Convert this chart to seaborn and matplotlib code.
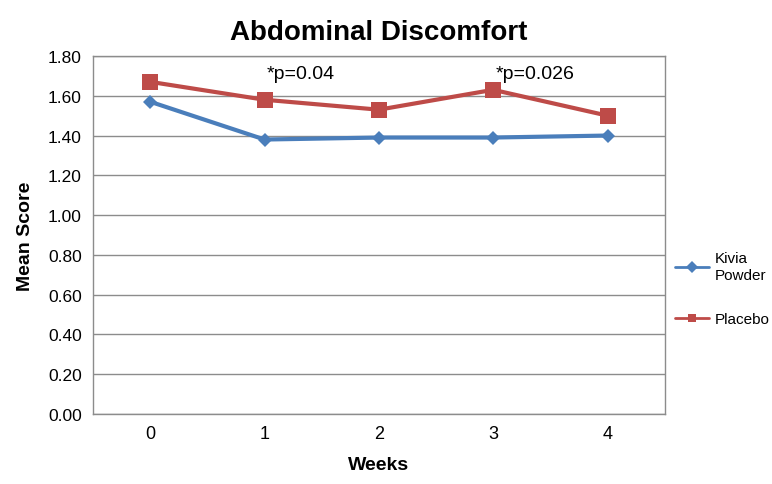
import matplotlib
matplotlib.use("Agg")
import matplotlib.pyplot as plt
import seaborn as sns
import pandas as pd

weeks = [0, 1, 2, 3, 4]
kivia = [1.57, 1.38, 1.39, 1.39, 1.40]
placebo = [1.67, 1.58, 1.53, 1.63, 1.50]
series_names = ["Kivia\nPowder", "Placebo"]
yticks = [0.0, 0.2, 0.4, 0.6, 0.8, 1.0, 1.2, 1.4, 1.6, 1.8]
notes = [(1, 1.67, "*p=0.04"), (3, 1.67, "*p=0.026")]

sns.set_theme(style="white")
plt.rcParams["font.family"] = ["Liberation Sans", "DejaVu Sans"]
plt.rcParams["text.color"] = "black"
plt.rcParams["axes.labelcolor"] = "black"
plt.rcParams["xtick.color"] = "black"
plt.rcParams["ytick.color"] = "black"

df = pd.DataFrame({
    "Weeks": weeks * 2,
    "Mean Score": kivia + placebo,
    "Group": [series_names[0]] * len(weeks) + [series_names[1]] * len(weeks),
})

fig = plt.figure(figsize=(7.72, 4.85), dpi=100)
ax = fig.add_axes([0.1205, 0.1443, 0.7405, 0.7382])

palette = {series_names[0]: "#4a7ebb", series_names[1]: "#be4b48"}
markers = {series_names[0]: "D", series_names[1]: "s"}
sizes = {series_names[0]: 7, series_names[1]: 11}

for name in series_names:
    sub = df[df["Group"] == name]
    sns.lineplot(data=sub, x="Weeks", y="Mean Score", ax=ax, color=palette[name],
                 marker=markers[name], markersize=sizes[name], linewidth=3,
                 markeredgewidth=0, label=name)

ax.set_xlim(-0.5, 4.5)
ax.set_ylim(0, 1.8)
ax.set_xticks(weeks)
ax.set_xticklabels([str(w) for w in weeks], fontsize=13)
ax.set_yticks(yticks)
ax.set_yticklabels([f"{t:.2f}" for t in yticks], fontsize=12.5)
ax.yaxis.grid(True, color="#8c8c8c", linewidth=1)
ax.xaxis.grid(False)
for s in ax.spines.values():
    s.set_color("#8c8c8c")
    s.set_linewidth(1)
ax.tick_params(axis="both", length=0, pad=8)

ax.set_xlabel("Weeks", fontsize=14, fontweight="bold", labelpad=10)
ax.set_ylabel("Mean Score", fontsize=14, fontweight="bold", labelpad=10)
ax.set_title("Abdominal Discomfort", fontsize=20, fontweight="bold", pad=12)

for x, y, t in notes:
    ax.text(x + 0.02, y, t, fontsize=14, ha="left", va="bottom")

handles, labels = ax.get_legend_handles_labels()
leg = ax.legend(handles, labels, loc="center left", bbox_to_anchor=(1.0, 0.35),
                frameon=False, fontsize=11, handlelength=2.2, labelspacing=2.0,
                handletextpad=0.4, borderaxespad=0.3)
for h in leg.legend_handles:
    h.set_markersize(6)
    h.set_linewidth(2)

fig.savefig("out.png", dpi=100)
